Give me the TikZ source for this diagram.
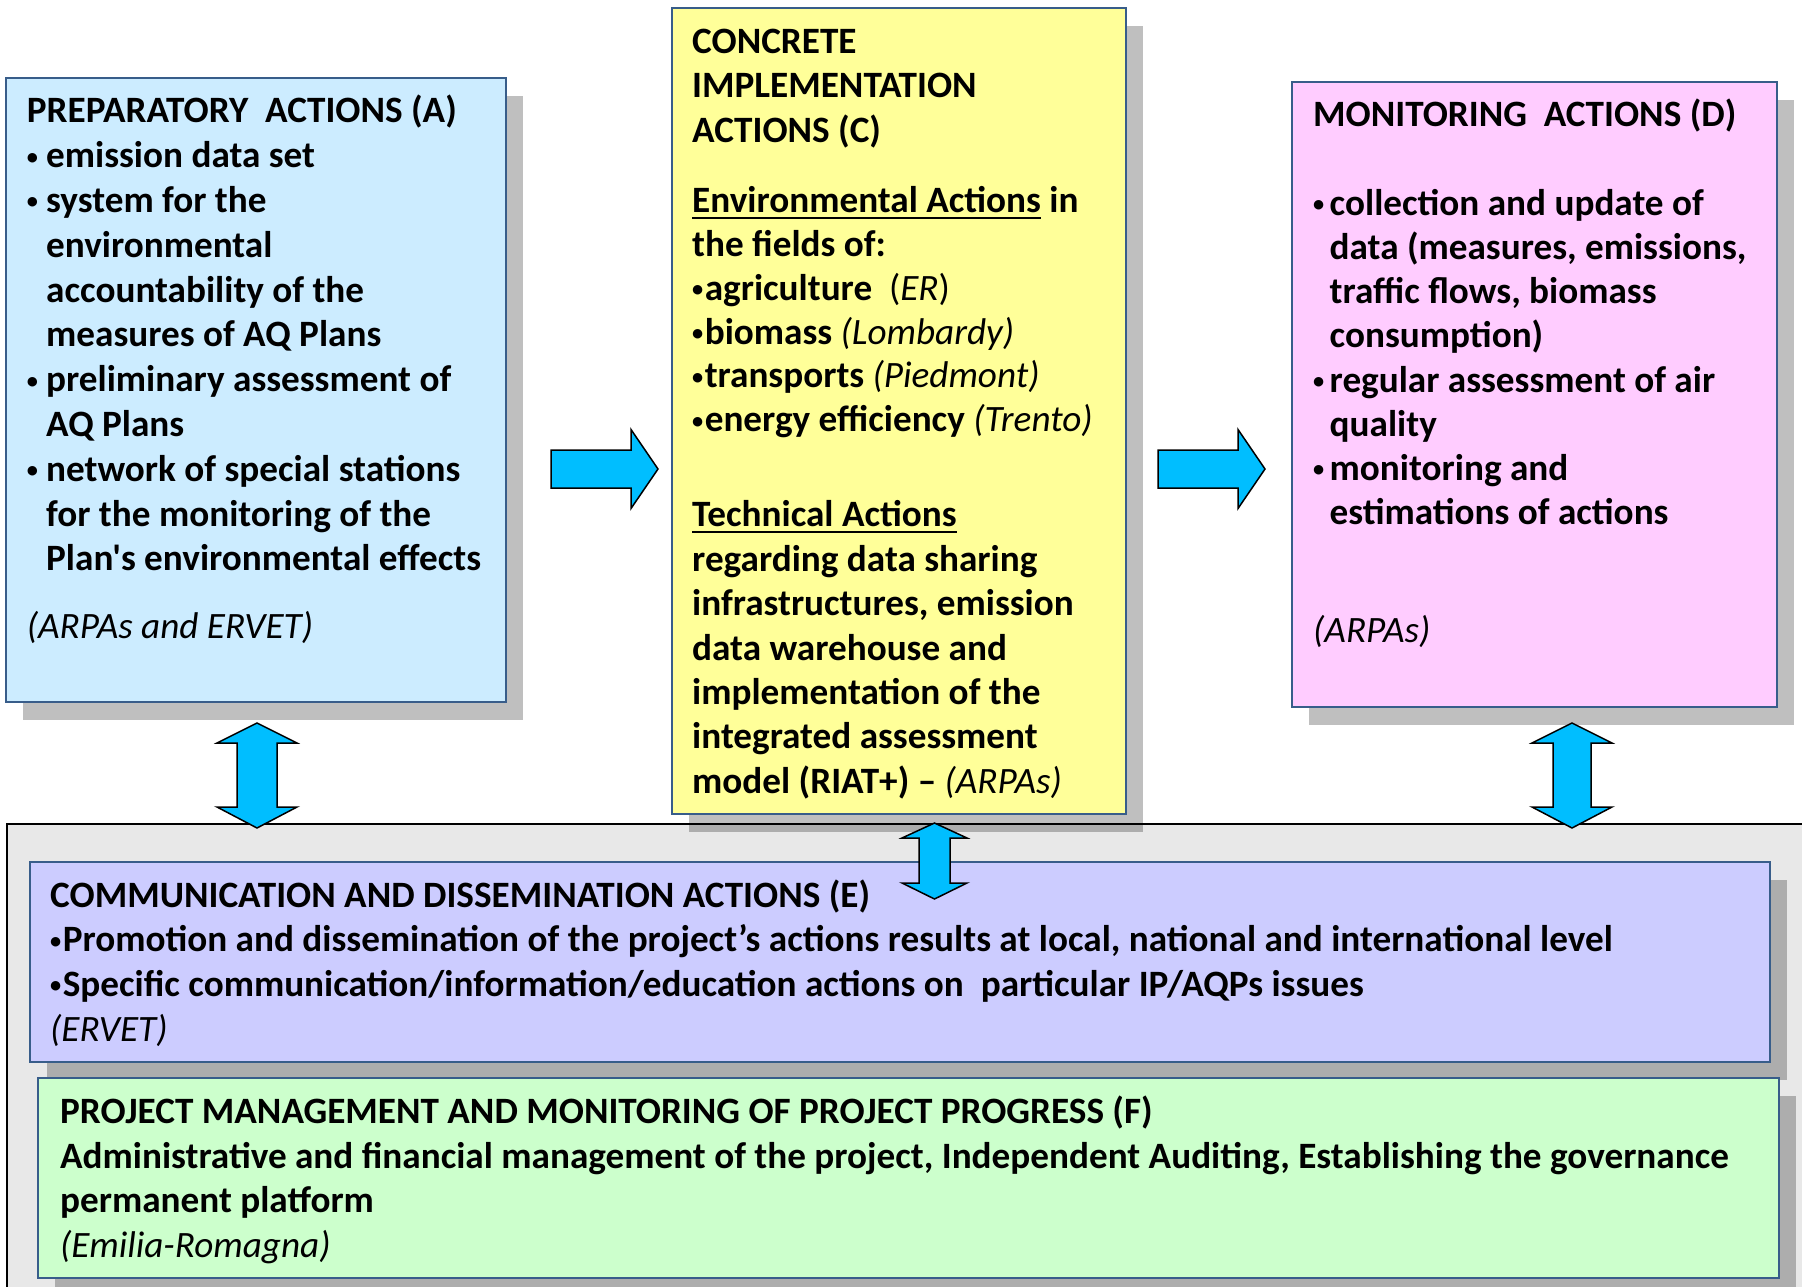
\documentclass[tikz,border=0pt]{standalone}
\usepackage{graphicx}
\usepackage{fontspec}
\setmainfont{Carlito}[Ligatures=TeXOff]
\usetikzlibrary{shadows}
\definecolor{bordc}{RGB}{56,93,138}
\definecolor{fillA}{RGB}{204,236,255}
\definecolor{fillC}{RGB}{255,255,153}
\definecolor{fillD}{RGB}{255,204,255}
\definecolor{fillE}{RGB}{204,204,255}
\definecolor{fillF}{RGB}{204,255,204}
\definecolor{bgfill}{RGB}{232,232,232}
\definecolor{arrfill}{RGB}{0,190,255}
\newcommand{\bdot}{\raisebox{3.6pt}{\scalebox{0.6}{•}}}
\newcommand{\mybul}[1]{\makebox[#1][l]{\bdot}}
\newcommand{\myind}[1]{\hspace*{#1}}
\newcommand{\myul}[1]{\setbox0=\hbox{#1}\rlap{\rule[-6.5pt]{\wd0}{2.2pt}}\box0\relax}
\newcommand{\topstrut}{\rule{0pt}{30pt}}
\newcommand{\regit}[1]{{\mdseries\itshape #1}}
\begin{document}
\begin{tikzpicture}[x=1pt,y=-1pt,
  pbox/.style={draw=bordc, line width=2pt, inner sep=0pt,
    drop shadow={shadow xshift=17pt, shadow yshift=-18pt, fill=black, opacity=0.25}},
  txt/.style={anchor=north west, inner sep=0pt, align=left},
  sk/.style={font={\bfseries\fontsize{37.2}{#1}\selectfont}},
  blockarrow/.style={draw=black, line width=1.5pt, fill=arrfill, line join=miter}]
\useasboundingbox (0,0) rectangle (1802,1287);
% background of lower band
\node[draw=black, line width=1.5pt, fill=bgfill, minimum width=1804pt, minimum height=470pt, anchor=north west, inner sep=0pt] (bg) at (6,823) {};
% boxes
\node[pbox, fill=fillA, minimum width=500pt, minimum height=624pt] (A) at (256,390) {};
\node[pbox, fill=fillC, minimum width=454pt, minimum height=806pt] (C) at (899,411) {};
\node[pbox, fill=fillD, minimum width=485pt, minimum height=625pt] (D) at (1534.5,394.5) {};
\node[pbox, fill=fillE, minimum width=1740pt, minimum height=200pt] (E) at (900,962) {};
\node[pbox, fill=fillF, minimum width=1741pt, minimum height=200pt] (F) at (908.5,1178) {};
% box A text
\node[txt, sk=44.8] (Atxt) at (26.7,92.7) {\topstrut PREPARATORY\ \ ACTIONS (A)\\
\mybul{19.3pt}emission data set\\
\mybul{19.3pt}system for the\\
\myind{19.3pt}environmental\\
\myind{19.3pt}accountability of the\\
\myind{19.3pt}measures of AQ Plans\\
\mybul{19.3pt}preliminary assessment of\\
\myind{19.3pt}AQ Plans\\
\mybul{19.3pt}network of special stations\\
\myind{19.3pt}for the monitoring of the\\
\myind{19.3pt}Plan's environmental effects\\[23pt]
\regit{(ARPAs and ERVET)}};
% box C text
\node[txt, sk=44.4] (Ctitle) at (692,23.3) {\topstrut CONCRETE\\ IMPLEMENTATION\\ ACTIONS (C)};
\node[txt, sk=43.8] (Cenv) at (692,182.5) {\topstrut\myul{Environmental Actions} in\\
the fields of:\\
\mybul{12.6pt}agriculture\ \ {\mdseries(\textit{ER})}\\
\mybul{12.6pt}biomass \regit{(Lombardy)}\\
\mybul{12.6pt}transports \regit{(Piedmont)}\\
\mybul{12.6pt}energy efficiency \regit{(Trento)}};
\node[txt, sk=44.4] (Ctech) at (692,496.7) {\topstrut\myul{Technical Actions}\\
regarding data sharing\\
infrastructures, emission\\
data warehouse and\\
implementation of the\\
integrated assessment\\
model (RIAT+) – \regit{(ARPAs)}};
% box D text
\node[txt, sk=44.2] (Dtitle) at (1313,96.7) {\topstrut MONITORING\ \ ACTIONS (D)};
\node[txt, sk=44.2] (Dlist) at (1313,185) {\topstrut\mybul{16.5pt}collection and update of\\
\myind{16.5pt}data (measures, emissions,\\
\myind{16.5pt}traffic flows, biomass\\
\myind{16.5pt}consumption)\\
\mybul{16.5pt}regular assessment of air\\
\myind{16.5pt}quality\\
\mybul{16.5pt}monitoring and\\
\myind{16.5pt}estimations of actions};
\node[txt, sk=44.2] (Dsrc) at (1313,612) {\topstrut\regit{(ARPAs)}};
% box E text
\node[txt, sk=44.6] (Etxt) at (50,877) {\topstrut COMMUNICATION AND DISSEMINATION ACTIONS (E)\\
\mybul{12.6pt}Promotion and dissemination of the project’s actions results at local, national and international level\\
\mybul{12.6pt}Specific communication/information/education actions on\ \ particular IP/AQPs issues\\
\regit{(ERVET)}};
% box F text
\node[txt, sk=44.8] (Ftxt) at (60,1093) {\topstrut PROJECT MANAGEMENT AND MONITORING OF PROJECT PROGRESS (F)\\
Administrative and financial management of the project, Independent Auditing, Establishing the governance\\
permanent platform\\
\regit{(Emilia-Romagna)}};
% block arrows
\coordinate (r1) at (551,469);
\coordinate (r2) at (1158,469);
\draw[blockarrow] (r1) ++(0,-19) -- ++(80,0) -- ++(0,-20.5) -- ++(27,39.5) -- ++(-27,39.5) -- ++(0,-20.5) -- ++(-80,0) -- cycle;
\draw[blockarrow] (r2) ++(0,-19) -- ++(80,0) -- ++(0,-20.5) -- ++(27,39.5) -- ++(-27,39.5) -- ++(0,-20.5) -- ++(-80,0) -- cycle;
\coordinate (uA) at (257,723);
\coordinate (uD) at (1572,723);
\coordinate (uC) at (934.5,823);
\draw[blockarrow] (uA) -- ++(40,20) -- ++(-20,0) -- ++(0,64) -- ++(20,0) -- ++(-40,21) -- ++(-40,-21) -- ++(20,0) -- ++(0,-64) -- ++(-20,0) -- cycle;
\draw[blockarrow] (uD) -- ++(40,20) -- ++(-21,0) -- ++(0,64) -- ++(21,0) -- ++(-40,21) -- ++(-40,-21) -- ++(21,0) -- ++(0,-64) -- ++(-21,0) -- cycle;
\draw[blockarrow] (uC) -- ++(32.5,15) -- ++(-17,0) -- ++(0,45) -- ++(17,0) -- ++(-32.5,16) -- ++(-32.5,-16) -- ++(17,0) -- ++(0,-45) -- ++(-17,0) -- cycle;
\end{tikzpicture}
\end{document}
